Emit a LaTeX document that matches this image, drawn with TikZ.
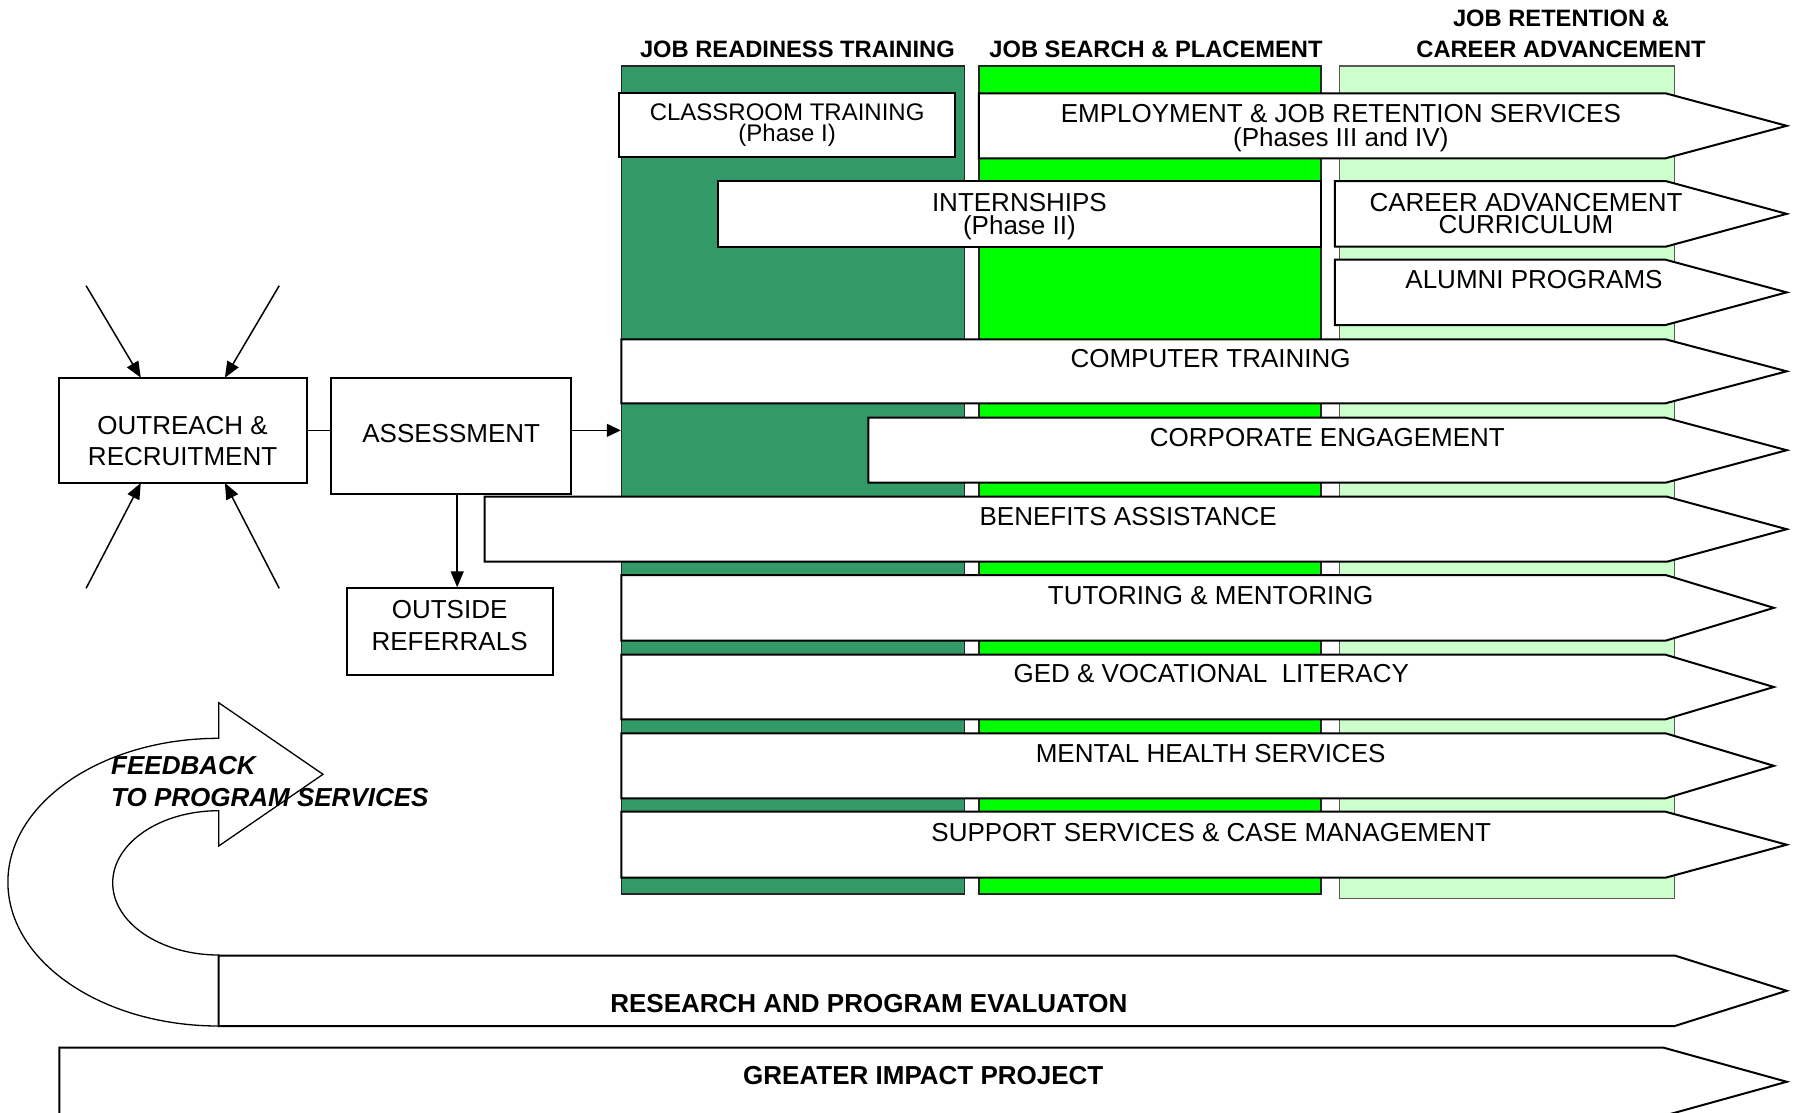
\documentclass[tikz,border=0pt]{standalone}
\usepackage{fontspec}
\setmainfont{Liberation Sans}
\usetikzlibrary{arrows.meta}
\definecolor{darkgr}{HTML}{339966}
\definecolor{brightgr}{HTML}{00FF00}
\definecolor{lightgr}{HTML}{CCFFCC}
\newcommand\bnr[5]{\draw[ban] (#1,#2) -- (#4,#2) -- (#5,{(#2+#3)/2}) -- (#4,#3) -- (#1,#3) -- cycle;}
\begin{document}
\begin{tikzpicture}[x=1pt,y=-1pt,
  colbox/.style={line width=1.5pt, inner sep=0},
  bx/.style={draw=black, line width=2pt, fill=white, inner sep=0},
  ban/.style={draw=black, line width=2pt, fill=white, line join=miter},
  t/.style={font=\fontsize{26}{22}\selectfont, align=center, inner sep=0, anchor=base},
  tb/.style={font=\bfseries\fontsize{26}{22}\selectfont, inner sep=0, anchor=base},
  hd/.style={font=\bfseries\fontsize{23.7}{31}\selectfont, align=center, inner sep=0, anchor=base},
  arr/.style={line width=1.5pt, -{Triangle[length=16pt,width=13pt]}},
]
\useasboundingbox (0,0) rectangle (1795,1112);
\fill[white] (0,0) rectangle (1795,1112);

% columns
\node[colbox, draw=black!85, fill=darkgr, minimum width=342.8pt, minimum height=828pt] (c1) at (792.9,480) {};
\node[colbox, draw=black!85, fill=brightgr, minimum width=342.2pt, minimum height=828pt] (c2) at (1149.9,480) {};
\node[colbox, draw=black!65, fill=lightgr, minimum width=335.4pt, minimum height=832.7pt] (c3) at (1507,482.35) {};

% headers
\node[hd] (h1) at (797.4,57.8) {JOB READINESS TRAINING};
\node[hd] (h2) at (1156,57.8) {JOB SEARCH \& PLACEMENT};
\node[hd] (h3) at (1561,57.8) {JOB RETENTION \&\\CAREER ADVANCEMENT};

% banners
\bnr{978.8}{93.3}{158.3}{1665.5}{1786.7}
\bnr{1334.8}{181}{246.7}{1665.5}{1786.7}
\bnr{1334.8}{259.7}{325}{1665.5}{1786.7}
\bnr{621.3}{339.3}{403.3}{1665.5}{1786.7}
\bnr{868.3}{417.7}{482.7}{1665.5}{1786.7}
\bnr{484.5}{496.7}{561.7}{1667}{1786.7}
\bnr{621.3}{575}{640.7}{1665.5}{1773.8}
\bnr{621.3}{654.7}{719.3}{1665.5}{1773.8}
\bnr{621.3}{733.3}{798.3}{1665.5}{1773.8}
\bnr{621.3}{811.7}{877.7}{1665.5}{1786.7}

% boxes in columns
\node[bx, minimum width=336.2pt, minimum height=63.4pt] (cls) at (787.1,125) {};
\node[bx, minimum width=602.9pt, minimum height=66pt] (int) at (1019.6,214) {};

% banner texts (base anchor = baseline of last line)
\node[t, font=\fontsize{24}{20.5}\selectfont] (clsT) at (787.1,141.2) {CLASSROOM TRAINING\\(Phase I)};
\node[t, font=\fontsize{26}{24}\selectfont] (empT) at (1340.8,146.7) {EMPLOYMENT \& JOB RETENTION SERVICES\\(Phases III and IV)};
\node[t, font=\fontsize{26}{23.3}\selectfont] (intT) at (1019.4,234.5) {INTERNSHIPS\\(Phase II)};
\node[t, font=\fontsize{26}{22.5}\selectfont] (carT) at (1526,233.5) {CAREER ADVANCEMENT\\CURRICULUM};
\node[t] (aluT) at (1534,288.8) {ALUMNI PROGRAMS};
\node[t] (comT) at (1210.6,367.8) {COMPUTER TRAINING};
\node[t] (corT) at (1327.4,446.2) {CORPORATE ENGAGEMENT};
\node[t] (benT) at (1128.2,525.5) {BENEFITS ASSISTANCE};
\node[t] (tutT) at (1210.6,604.5) {TUTORING \& MENTORING};
\node[t] (gedT) at (1211.2,682.8) {GED \& VOCATIONAL\ \ LITERACY};
\node[t] (menT) at (1210.6,762.2) {MENTAL HEALTH SERVICES};
\node[t] (supT) at (1211.2,841.2) {SUPPORT SERVICES \& CASE MANAGEMENT};

% left side boxes
\node[bx, minimum width=247.3pt, minimum height=105.3pt] (out) at (182.85,430.35) {};
\node[bx, minimum width=240.4pt, minimum height=116pt] (asm) at (451.2,435.7) {};
\node[bx, minimum width=205.4pt, minimum height=86.4pt] (ref) at (450,631.5) {};
\node[t, font=\fontsize{26}{31.7}\selectfont] (outT) at (182.6,465.7) {OUTREACH \&\\RECRUITMENT};
\node[t] (asmT) at (451.2,442.7) {ASSESSMENT};
\node[t, font=\fontsize{26}{32.4}\selectfont] (refT) at (449.6,650.7) {OUTSIDE\\REFERRALS};

% starburst arrows
\coordinate (s1) at (86.1,285.7);  \coordinate (e1) at (140.8,377.7);
\coordinate (s2) at (279.2,285.7); \coordinate (e2) at (224.9,377.7);
\coordinate (s3) at (86.1,588.3);  \coordinate (e3) at (140.8,483);
\coordinate (s4) at (279.2,588.3); \coordinate (e4) at (224.9,483);
\draw[arr] (s1) -- (e1);
\draw[arr] (s2) -- (e2);
\draw[arr] (s3) -- (e3);
\draw[arr] (s4) -- (e4);

% connectors
\draw[line width=1.5pt] (out.east) -- (out.east -| asm.west);
\draw[arr, -{Triangle[length=14pt,width=13pt]}] (out.east -| asm.east) -- (out.east -| c1.west);
\draw[arr] ([xshift=6pt]asm.south) -- ([xshift=6pt]asm.south |- ref.north);

% feedback arrow
\draw[line width=1.3pt, fill=white] (218.7,1026) arc[start angle=90, end angle=270, x radius=210.8, y radius=143.85]
  -- (218.7,702.7) -- (323,774.3) -- (218.7,846) -- (218.7,810.7)
  arc[start angle=270, end angle=90, x radius=106, y radius=72.15] -- cycle;
\node[inner sep=0, anchor=base west, align=left, font=\bfseries\itshape\fontsize{26}{31.7}\selectfont] (fbT) at (111,806) {FEEDBACK\\TO PROGRAM SERVICES};

% bottom banners
\bnr{218.7}{955.5}{1026}{1674.7}{1786.7}
\bnr{59.3}{1047.5}{1116}{1663}{1786.7}
\node[tb] (resT) at (868.9,1012.2) {RESEARCH AND PROGRAM EVALUATON};
\node[tb] (greT) at (923.3,1084.5) {GREATER IMPACT PROJECT};
\end{tikzpicture}
\end{document}
